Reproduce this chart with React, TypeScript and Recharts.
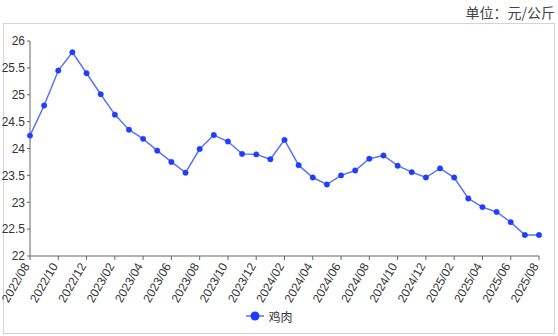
import { CartesianGrid, Legend, Line, LineChart, XAxis, YAxis } from "recharts";

const months = [
  "2022/08", "2022/09", "2022/10", "2022/11", "2022/12",
  "2023/01", "2023/02", "2023/03", "2023/04", "2023/05", "2023/06",
  "2023/07", "2023/08", "2023/09", "2023/10", "2023/11", "2023/12",
  "2024/01", "2024/02", "2024/03", "2024/04", "2024/05", "2024/06",
  "2024/07", "2024/08", "2024/09", "2024/10", "2024/11", "2024/12",
  "2025/01", "2025/02", "2025/03", "2025/04", "2025/05", "2025/06",
  "2025/07", "2025/08",
];

const chicken = [
  24.24, 24.8, 25.45, 25.79, 25.4,
  25.01, 24.63, 24.35, 24.18, 23.96, 23.75,
  23.55, 23.99, 24.25, 24.13, 23.9, 23.89,
  23.8, 24.16, 23.69, 23.46, 23.33, 23.5,
  23.59, 23.81, 23.87, 23.68, 23.56, 23.46,
  23.63, 23.46, 23.07, 22.91, 22.82, 22.63,
  22.39, 22.39,
];

const yTicks = [22, 22.5, 23, 23.5, 24, 24.5, 25, 25.5, 26];

const seriesName = "鸡肉";
const unitLabel = "单位：元/公斤";

const data = months.map((m, i) => ({ month: m, value: chicken[i] }));

const font = "'Liberation Sans', 'Noto Sans CJK SC', sans-serif";
const lineColor = "#5a74f6";
const dotColor = "#1f3cff";

function MonthTick({ x, y, payload }: any) {
  return (
    <text
      x={x}
      y={y + 4}
      transform={`rotate(-60, ${x}, ${y + 4})`}
      textAnchor="end"
      fontSize={12}
      fontFamily={font}
      fill="#333"
    >
      {payload.value}
    </text>
  );
}

function LegendContent() {
  return (
    <div
      style={{
        display: "flex",
        justifyContent: "center",
        alignItems: "center",
        height: 20,
        fontFamily: font,
        fontSize: 12,
        color: "#333",
      }}
    >
      <svg width={18} height={12} style={{ marginRight: 4 }}>
        <line x1={0} y1={6} x2={18} y2={6} stroke={lineColor} strokeWidth={1.5} />
        <circle cx={9} cy={6} r={4.5} fill={dotColor} />
      </svg>
      <span>{seriesName}</span>
    </div>
  );
}

export default function App() {
  return (
    <div style={{ position: "absolute", left: 0, top: 0, width: 558, height: 336, background: "#fff" }}>
      <div
        style={{
          position: "absolute",
          right: 3,
          top: 3,
          fontFamily: "'Noto Sans CJK SC', sans-serif",
          fontSize: 14,
          color: "#444",
          lineHeight: "18px",
        }}
      >
        {unitLabel}
      </div>
      <div
        style={{
          position: "absolute",
          left: 3,
          top: 23,
          width: 550,
          height: 309,
          border: "1px solid #d4d4d4",
        }}
      />
      <div style={{ position: "absolute", left: 0, top: 0 }}>
        <LineChart width={558} height={336} data={data} margin={{ top: 41, right: 19, bottom: 10, left: 0 }}>
          <CartesianGrid stroke="none" />
          <XAxis
            dataKey="month"
            interval={1}
            height={50}
            tick={<MonthTick />}
            tickSize={4}
            axisLine={{ stroke: "#666" }}
            tickLine={{ stroke: "#666" }}
          />
          <YAxis
            width={30}
            domain={[22, 26]}
            ticks={yTicks}
            tickSize={3}
            tickMargin={2}
            axisLine={{ stroke: "#666" }}
            tickLine={{ stroke: "#666" }}
            tick={{ fontSize: 12, fontFamily: font, fill: "#333" }}
          />
          <Legend verticalAlign="bottom" content={<LegendContent />} wrapperStyle={{ height: 20 }} />
          <Line
            type="linear"
            dataKey="value"
            name={seriesName}
            stroke={lineColor}
            strokeWidth={1.5}
            dot={{ r: 2.7, fill: dotColor, stroke: dotColor, strokeWidth: 0.5 }}
            isAnimationActive={false}
          />
        </LineChart>
      </div>
    </div>
  );
}
